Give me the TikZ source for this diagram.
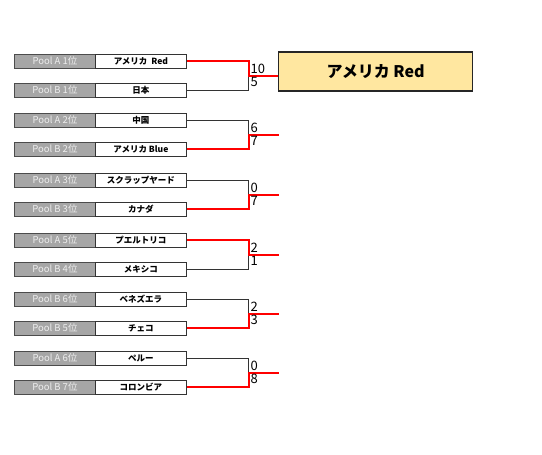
\documentclass[tikz,border=0pt]{standalone}
\usepackage{fontspec}
\setmainfont{Noto Sans CJK JP}
\definecolor{poolgrey}{HTML}{A6A6A6}
\definecolor{pooltext}{HTML}{EDEDED}
\definecolor{winfill}{HTML}{FFE7A0}
\definecolor{winred}{HTML}{FF0000}
\tikzset{
  poolbox/.style={draw=black!70, fill=poolgrey, text=pooltext, minimum width=81pt, minimum height=14pt, inner sep=0pt, anchor=west, font=\fontsize{9.5}{10}\selectfont, line width=0.8pt},
  teambox/.style={draw=black!80, fill=white, minimum width=91pt, minimum height=14pt, inner sep=0pt, anchor=west, font=\fontsize{8.5}{9}\selectfont\bfseries, line width=0.8pt},
  winbox/.style={draw=black!85, fill=winfill, minimum width=194pt, minimum height=39pt, inner sep=0pt, anchor=west, font=\fontsize{16}{18}\selectfont\bfseries, line width=1.2pt},
  loseline/.style={draw=black!80, line width=0.8pt},
  winline/.style={draw=winred, line width=2pt},
  scoretop/.style={anchor=south west, inner sep=0pt, font=\fontsize{13}{14}\selectfont},
  scorebot/.style={anchor=north west, inner sep=0pt, font=\fontsize{13}{14}\selectfont},
}
\begin{document}
\begin{tikzpicture}[x=1pt,y=-1pt]
\useasboundingbox (0,0) rectangle (542,455);
% rows
\foreach \i/\y/\pool/\team in {
  1/61/{Pool A 1位}/{アメリカ\ \ Red},
  2/90/{Pool B 1位}/{日本},
  3/120/{Pool A 2位}/{中国},
  4/149/{Pool B 2位}/{アメリカ Blue},
  5/180/{Pool A 3位}/{スクラップヤード},
  6/209/{Pool B 3位}/{カナダ},
  7/240/{Pool A 5位}/{プエルトリコ},
  8/269/{Pool B 4位}/{メキシコ},
  9/299/{Pool B 6位}/{ベネズエラ},
  10/328/{Pool B 5位}/{チェコ},
  11/358/{Pool A 6位}/{ペルー},
  12/387/{Pool B 7位}/{コロンビア}} {
  \node[poolbox] (p\i) at (14,\y) {\pool};
  \node[teambox] (t\i) at (95,\y) {\team};
}
\node[winbox] (w) at (278,71.5) {アメリカ Red};
% bracket junctions
\foreach \k/\y in {1/76,2/135,3/195,4/255,5/314,6/373} {
  \coordinate (j\k) at (248.5,\y);
  \coordinate (o\k) at (279,\y);
}
% pair 1: top wins
\draw[loseline] (t2.east) -| (j1);
\draw[winline] (t1.east) -| (j1) -- (w.west |- j1);
\node[scoretop] (s1a) at ([xshift=2pt,yshift=2pt]j1) {10};
\node[scorebot] (s1b) at ([xshift=2pt,yshift=-1pt]j1) {5};
% pair 2: bottom wins
\draw[loseline] (t3.east) -| (j2);
\draw[winline] (t4.east) -| (j2) -- (o2);
\node[scoretop] (s2a) at ([xshift=2pt,yshift=2pt]j2) {6};
\node[scorebot] (s2b) at ([xshift=2pt,yshift=-1pt]j2) {7};
% pair 3: bottom wins
\draw[loseline] (t5.east) -| (j3);
\draw[winline] (t6.east) -| (j3) -- (o3);
\node[scoretop] (s3a) at ([xshift=2pt,yshift=2pt]j3) {0};
\node[scorebot] (s3b) at ([xshift=2pt,yshift=-1pt]j3) {7};
% pair 4: top wins
\draw[loseline] (t8.east) -| (j4);
\draw[winline] (t7.east) -| (j4) -- (o4);
\node[scoretop] (s4a) at ([xshift=2pt,yshift=2pt]j4) {2};
\node[scorebot] (s4b) at ([xshift=2pt,yshift=-1pt]j4) {1};
% pair 5: bottom wins
\draw[loseline] (t9.east) -| (j5);
\draw[winline] (t10.east) -| (j5) -- (o5);
\node[scoretop] (s5a) at ([xshift=2pt,yshift=2pt]j5) {2};
\node[scorebot] (s5b) at ([xshift=2pt,yshift=-1pt]j5) {3};
% pair 6: bottom wins
\draw[loseline] (t11.east) -| (j6);
\draw[winline] (t12.east) -| (j6) -- (o6);
\node[scoretop] (s6a) at ([xshift=2pt,yshift=2pt]j6) {0};
\node[scorebot] (s6b) at ([xshift=2pt,yshift=-1pt]j6) {8};
\end{tikzpicture}
\end{document}
